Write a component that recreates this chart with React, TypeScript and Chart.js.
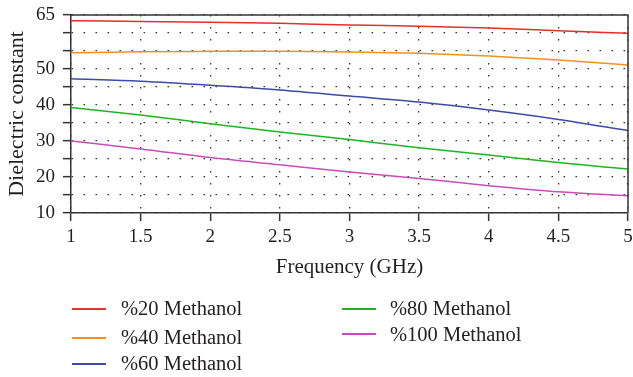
import React, { useEffect, useRef } from "react";
import { Chart, registerables } from "chart.js";

Chart.register(...registerables);

const frequencies = [1, 1.5, 2, 2.5, 3, 3.5, 4, 4.5, 5];
const methanol20 = [63.4, 63.2, 63.0, 62.7, 62.2, 61.9, 61.4, 60.6, 59.9];
const methanol40 = [54.5, 54.8, 54.9, 54.95, 54.75, 54.35, 53.6, 52.5, 51.1];
const methanol60 = [47.3, 46.6, 45.5, 44.2, 42.5, 40.8, 38.6, 36.0, 32.9];
const methanol80 = [39.3, 37.2, 34.8, 32.5, 30.4, 28.1, 26.1, 24.0, 22.2];
const methanol100 = [30.0, 27.8, 25.4, 23.4, 21.4, 19.6, 17.6, 15.9, 14.8];

const seriesLabels = ["%20 Methanol", "%40 Methanol", "%60 Methanol", "%80 Methanol", "%100 Methanol"];
const seriesColors = ["#e2302a", "#f5901e", "#3d4aa6", "#1db526", "#c94db6"];
const seriesValues = [methanol20, methanol40, methanol60, methanol80, methanol100];
const yLabeledTicks = [10, 20, 30, 40, 50, 65];

const FONT = "'Liberation Serif', 'Times New Roman', serif";
const TEXT = "#231f20";
const AXIS = "#333333";
const GRID = "rgba(25,25,25,0.9)";

const framePlugin = {
  id: "frame",
  afterDraw(chart: any) {
    const { ctx, chartArea } = chart;
    const { left, top, right, bottom } = chartArea;
    ctx.save();
    ctx.strokeStyle = AXIS;
    ctx.lineWidth = 1.5;
    ctx.beginPath();
    ctx.moveTo(left, top);
    ctx.lineTo(right, top);
    ctx.lineTo(right, bottom);
    ctx.stroke();
    ctx.restore();
  },
};

const legendItems = [
  { i: 0, swX: 72, textX: 121, cy: 308, swY: 309 },
  { i: 1, swX: 72, textX: 121, cy: 337, swY: 338 },
  { i: 2, swX: 72, textX: 121, cy: 362.5, swY: 364 },
  { i: 3, swX: 342, textX: 390, cy: 308, swY: 309 },
  { i: 4, swX: 342, textX: 390, cy: 334, swY: 334 },
];

export default function App() {
  const canvasRef = useRef<HTMLCanvasElement | null>(null);

  useEffect(() => {
    const canvas = canvasRef.current;
    if (!canvas) return;
    const chart = new Chart(canvas, {
      type: "line",
      data: {
        datasets: seriesValues.map((vals, k) => ({
          label: seriesLabels[k],
          data: frequencies.map((f, j) => ({ x: f, y: vals[j] })),
          borderColor: seriesColors[k],
          backgroundColor: seriesColors[k],
          borderWidth: 1.5,
          pointRadius: 0,
          tension: 0.4,
          cubicInterpolationMode: "monotone" as const,
          fill: false,
        })),
      },
      options: {
        animation: false,
        responsive: false,
        maintainAspectRatio: false,
        layout: { padding: { top: 15, right: 5, left: 0, bottom: 0 } },
        plugins: { legend: { display: false }, tooltip: { enabled: false } },
        scales: {
          x: {
            type: "linear",
            min: 1,
            max: 5,
            ticks: {
              stepSize: 0.5,
              padding: 5,
              color: TEXT,
              font: { family: FONT, size: 19 },
              callback: (v: any) => String(v),
              maxRotation: 0,
            },
            grid: {
              color: GRID,
              lineWidth: 1.3,
              tickLength: 8,
              tickColor: AXIS,
              tickWidth: 1.5,
              tickBorderDash: [],
            },
            border: { color: AXIS, width: 1.5, dash: [1.6, 10.4] },
            title: {
              display: true,
              text: "Frequency (GHz)",
              color: TEXT,
              font: { family: FONT, size: 21 },
              padding: { top: 0, bottom: 97 },
            },
            afterFit: (s: any) => {
              s.height = 164;
              s.paddingLeft = 0;
              s.paddingRight = 0;
            },
          },
          y: {
            type: "linear",
            min: 10,
            max: 65,
            ticks: {
              stepSize: 5,
              padding: 8,
              color: TEXT,
              font: { family: FONT, size: 19 },
              autoSkip: false,
              callback: (v: any) => (yLabeledTicks.includes(Number(v)) ? String(v) : ""),
            },
            grid: {
              color: GRID,
              lineWidth: 1.3,
              tickLength: 8,
              tickColor: AXIS,
              tickWidth: 1.5,
              tickBorderDash: [],
            },
            border: { color: AXIS, width: 1.5, dash: [1.6, 10.4] },
            title: {
              display: true,
              text: "Dielectric constant",
              color: TEXT,
              font: { family: FONT, size: 22 },
              padding: { top: 4, bottom: 0 },
            },
            afterFit: (s: any) => {
              s.width = 71;
              s.paddingTop = 0;
              s.paddingBottom = 0;
            },
          },
        },
      },
      plugins: [framePlugin],
    });
    return () => chart.destroy();
  }, []);

  return (
    <div style={{ position: "fixed", left: 0, top: 0, width: 633, height: 377, background: "#fff" }}>
      <canvas ref={canvasRef} width={633} height={377} style={{ display: "block", width: 633, height: 377 }} />
      {legendItems.map((it) => (
        <React.Fragment key={it.i}>
          <div
            style={{
              position: "absolute",
              left: it.swX,
              top: it.swY - 1,
              width: 34,
              height: 1.5,
              background: seriesColors[it.i],
            }}
          />
          <div
            style={{
              position: "absolute",
              left: it.textX,
              top: it.cy - 12,
              height: 24,
              lineHeight: "24px",
              fontFamily: FONT,
              fontSize: 20.5,
              color: TEXT,
              whiteSpace: "nowrap",
            }}
          >
            {seriesLabels[it.i]}
          </div>
        </React.Fragment>
      ))}
    </div>
  );
}
